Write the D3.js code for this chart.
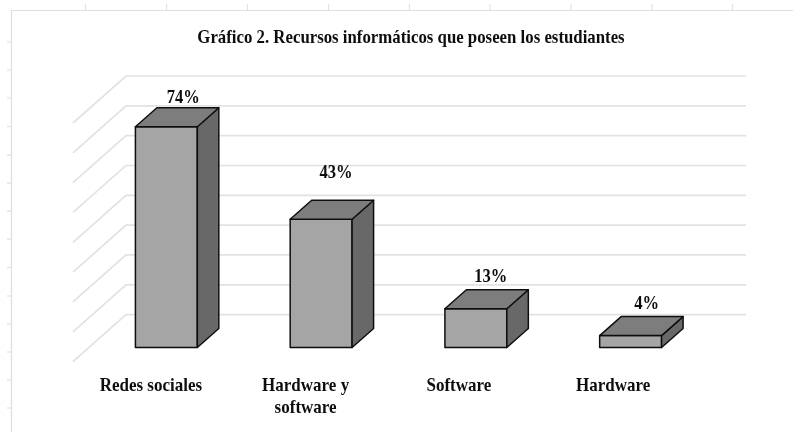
<!DOCTYPE html>
<html><head><meta charset="utf-8">
<script src="https://cdn.jsdelivr.net/npm/d3@7/dist/d3.min.js"></script>
<style>html,body{margin:0;padding:0;background:#fff}svg{display:block}text{font-family:"Liberation Serif",serif;font-weight:bold;fill:#111}</style>
</head><body><div id="c"></div>
<script>
const title = "Gráfico 2. Recursos informáticos que poseen los estudiantes";
const categories = ["Redes sociales", "Hardware y software", "Software", "Hardware"];
const values = [74, 43, 13, 4];
const gridValues = [0, 10, 20, 30, 40, 50, 60, 70, 80];
const rulerTop = [85.5, 166.5, 247.5, 328.5, 409.5, 490, 571, 652, 732.5];
const rulerLeft = [42, 70, 98, 126.5, 155, 183, 211, 239, 267.5, 296, 324, 352, 380, 408];

const W = 793, H = 432;
const svg = d3.select("#c").append("svg").attr("width", W).attr("height", H);
const soft = svg.append("defs").append("filter").attr("id", "soft");
soft.append("feGaussianBlur").attr("stdDeviation", 0.4);
const root = svg.append("g").attr("filter", "url(#soft)");

// Reference type is tall and narrow: set a larger size, then squeeze the glyphs to the target width
function condense(sel, ratio) {
  sel.each(function() {
    const w = this.getComputedTextLength();
    d3.select(this).attr("textLength", w * ratio).attr("lengthAdjust", "spacingAndGlyphs");
  });
}

// frame + rulers
root.append("path").attr("fill", "none").attr("stroke", "#dedede").attr("stroke-width", 1.2)
  .attr("d", `M11.5 432V10.5H793`);
root.selectAll(".rt").data(rulerTop).join("line")
  .attr("x1", d => d).attr("x2", d => d).attr("y1", 4).attr("y2", 10).attr("stroke", "#e2e2e2").attr("stroke-width", 1.2);
root.selectAll(".rl").data(rulerLeft).join("line")
  .attr("y1", d => d).attr("y2", d => d).attr("x1", 7).attr("x2", 11).attr("stroke", "#e2e2e2").attr("stroke-width", 1.2);

const y = d3.scaleLinear().domain([0, 80]).range([361.6, 123]);
const depthFloor = {dx: 53, dy: 47};
const x = d3.scaleBand().domain(categories).range([89, 708]).paddingInner(0.6).paddingOuter(0.3);
const barDepth = {dx: 21.5, dy: 19};
const frontBase = 347.5, unit = (y(0) - y(1));
const barH = v => v * unit;

// gridlines
const grid = root.append("g").attr("fill", "none").attr("stroke", "#e2e2e2");
grid.selectAll(".g").data(gridValues).join("path")
  .attr("stroke-width", 1.7)
  .attr("d", d => {
    const fy = y(d);
    return `M73 ${fy}L${73 + depthFloor.dx} ${fy - depthFloor.dy}H746`;
  });

// bars
const bars = root.selectAll(".bar").data(categories.map((c, i) => ({c, v: values[i]}))).join("g");
const stroke = "#111";
bars.each(function(d) {
  const g = d3.select(this);
  const x0 = x(d.c), x1 = x0 + x.bandwidth(), b = frontBase, t = b - barH(d.v);
  const {dx, dy} = barDepth;
  const face = (pts, fill) => g.append("path").attr("d", d3.line()(pts) + "Z")
    .attr("fill", fill).attr("stroke", stroke).attr("stroke-width", 1.5).attr("stroke-linejoin", "round");
  face([[x0, t], [x1, t], [x1, b], [x0, b]], "#a5a5a5");
  face([[x1, t], [x1 + dx, t - dy], [x1 + dx, b - dy], [x1, b]], "#686868");
  face([[x0, t], [x0 + dx, t - dy], [x1 + dx, t - dy], [x1, t]], "#7d7d7d");
});

// value labels
const labelLift = [23.5, 41, 27, 27];
const labelShift = [17, 15, 15, 16];
const valueLabels = bars.append("text").attr("text-anchor", "middle").attr("font-size", 19)
  .attr("x", (d, i) => x(d.c) + x.bandwidth() / 2 + labelShift[i])
  .attr("y", (d, i) => frontBase - barH(d.v) - labelLift[i])
  .text(d => d.v + "%");
condense(valueLabels, 0.87);

// category labels
const catShift = [-15.5, -15.5, -17, -17.5], catBase = 390.7, catLead = 22;
const wrap = c => c.length > 15 ? [c.slice(0, c.lastIndexOf(" ")), c.slice(c.lastIndexOf(" ") + 1)] : [c];
const catX = d => x(d) + x.bandwidth() / 2 + catShift[categories.indexOf(d)];
const catLines = categories.flatMap(d => wrap(d).map((line, i) => ({line, i, x: catX(d)})));
const catText = root.selectAll(".cat").data(catLines).join("text")
  .attr("text-anchor", "middle").attr("font-size", 19)
  .attr("x", d => d.x).attr("y", d => catBase + d.i * catLead).text(d => d.line);
condense(catText, 0.895);

// title
const titleText = root.append("text").attr("x", 411).attr("y", 43).attr("text-anchor", "middle")
  .attr("font-size", 19).text(title);
condense(titleText, 0.884);
</script></body></html>
